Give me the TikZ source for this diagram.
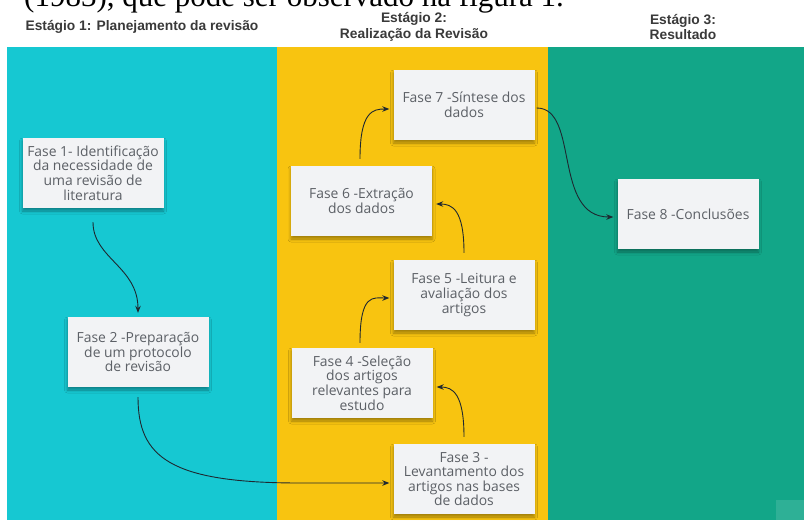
\documentclass[tikz,border=0pt]{standalone}
\usepackage{fontspec}
\setmainfont{Open Sans}
\newfontfamily\headfont{Liberation Sans}
\newfontfamily\docfont{Liberation Serif}
\usetikzlibrary{arrows.meta,shadows.blur}

\definecolor{colplan}{RGB}{22,200,210}
\definecolor{colreal}{RGB}{248,196,16}
\definecolor{colres}{RGB}{18,166,136}
\definecolor{cardbg}{RGB}{242,243,245}
\definecolor{cardtext}{RGB}{92,96,102}
\definecolor{headtext}{RGB}{58,58,58}
\definecolor{arrowc}{RGB}{30,40,48}

\tikzset{
  card/.style={fill=cardbg, minimum width=141pt, minimum height=70pt,
    inner sep=0pt, align=center, text=cardtext,
    font=\fontsize{13.9}{14.6}\selectfont,
    blur shadow={shadow xshift=0pt, shadow yshift=-3pt,
      shadow blur radius=3pt, shadow opacity=35}},
  flow/.style={draw=arrowc, line width=0.9pt,
    -{Stealth[length=7pt,width=5.5pt]}},
  stagehead/.style={font=\headfont\bfseries\fontsize{13.8}{15.5}\selectfont,
    text=headtext, align=center, inner sep=0pt},
}

\begin{document}
\begin{tikzpicture}[x=1pt,y=-1pt]
  \useasboundingbox (0,0) rectangle (804,520);
  \fill[white] (0,0) rectangle (804,520);

  % stage columns
  \fill[colplan] (7,47) rectangle (277,520);
  \fill[colreal] (277,47) rectangle (548,520);
  \fill[colres]  (548,47) rectangle (804,520);
  \fill[white, opacity=0.12] (776,500) rectangle (804,520);

  % line of running text above the chart
  \begin{scope}
    \clip (0,0) rectangle (804,520);
    \node[anchor=base west, inner sep=0pt, text=black,
      font=\docfont\fontsize{31}{31}\selectfont] (runtext) at (24,6)
      {(1983), que pode ser observado na figura 1.};
  \end{scope}

  % stage headings
  \node[stagehead] (h1) at (142,27) {Estágio 1: Planejamento da revisão};
  \node[stagehead] (h2) at (414,27) {Estágio 2:\\Realização da Revisão};
  \node[stagehead] (h3) at (683,27) {Estágio 3:\\Resultado};

  % phase cards
  \node[card] (c1) at (93,173)  {Fase 1- Identificação\\da necessidade de\\uma revisão de\\literatura};
  \node[card] (c2) at (138,352) {Fase 2 -Preparação\\de um protocolo\\de revisão};
  \node[card] (c3) at (464,479) {Fase 3 -\\Levantamento dos\\artigos nas bases\\de dados};
  \node[card] (c4) at (362,383) {Fase 4 -Seleção\\dos artigos\\relevantes para\\estudo};
  \node[card] (c5) at (464,295) {Fase 5 -Leitura e\\avaliação dos\\artigos};
  \node[card] (c6) at (361.5,201) {Fase 6 -Extração\\dos dados};
  \node[card] (c7) at (464,105) {Fase 7 -Síntese dos\\dados};
  \node[card] (c8) at (688,214) {Fase 8 -Conclusões};

  % connectors
  \draw[flow, shorten <=14pt, shorten >=4pt]
    (c1.south) .. controls +(0,50) and +(0,-50) .. (c2.north);

  \coordinate (bend23) at (300,483);
  \draw[flow, shorten <=10pt, shorten >=4pt]
    (c2.south) .. controls +(0,70) and +(-130,0) .. (bend23)
    -- ([yshift=-4pt]c3.west);

  \draw[flow, shorten <=7pt, shorten >=4pt]
    (c3.north) .. controls +(0,-50) and +(20,0) .. ([yshift=-4pt]c4.east);

  \draw[flow, shorten <=5pt, shorten >=4pt]
    ([xshift=-2pt]c4.north) .. controls +(0,-55) and +(-20,0) .. ([yshift=-3pt]c5.west);

  \draw[flow, shorten <=7pt, shorten >=4pt]
    (c5.north) .. controls +(0,-50) and +(20,0) .. ([yshift=-3pt]c6.east);

  \draw[flow, shorten <=7pt, shorten >=4pt]
    ([xshift=-1.5pt]c6.north) .. controls +(0,-55) and +(-20,0) .. ([yshift=-4pt]c7.west);

  \draw[flow, shorten <=2pt, shorten >=4pt]
    ([yshift=-3pt]c7.east) .. controls +(45,0) and +(-65,0) .. ([yshift=-3pt]c8.west);
\end{tikzpicture}
\end{document}
